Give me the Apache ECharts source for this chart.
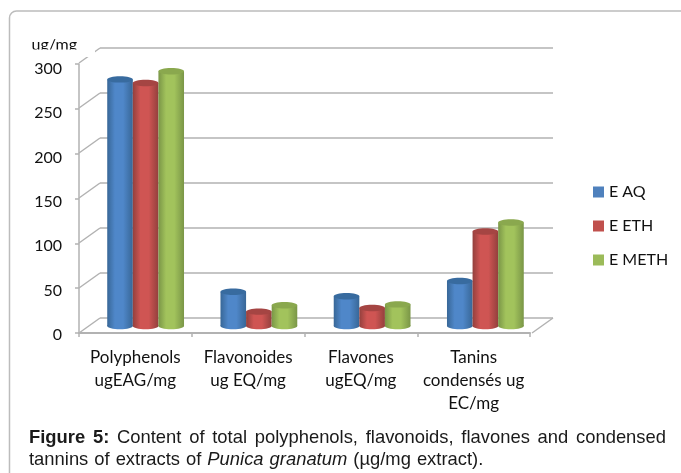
<!DOCTYPE html>
<html>
<head>
<meta charset="utf-8">
<style>html,body{margin:0;padding:0;background:#fff}#chart{width:681px;height:473px}</style>
<script src="https://cdn.jsdelivr.net/npm/echarts@6/dist/echarts.min.js"></script>
</head>
<body>
<div id="chart"></div>
<script>
// Extract contents per assay, in ug/mg
const categories = ['Polyphenols\nugEAG/mg', 'Flavonoides\nug EQ/mg', 'Flavones\nugEQ/mg', 'Tanins\ncondensés ug\nEC/mg'];
const eAq = [274, 38, 33, 50];
const eEth = [270, 16, 20, 105];
const eMeth = [283, 23, 24, 115];
const yTicks = [0, 50, 100, 150, 200, 250, 300];
const captionLine1 = [['Figure', true], ['5:', true], ['Content'], ['of'], ['total'], ['polyphenols,'], ['flavonoids,'], ['flavones'], ['and'], ['condensed']];
const captionLine2 = [['tannins'], ['of'], ['extracts'], ['of'], ['Punica', false, true], ['granatum', false, true], ['(µg/mg'], ['extract).']];

const GRID_COLOR = '#b2b2b2';
const LABEL_FONT = 'Lato, "Open Sans", sans-serif';
const CAPTION_FONT = '"Liberation Sans", Arial, sans-serif';
const CAPTION_SIZE = 18.4;
const DEPTH = [-21, 15];

const palette = [
  { name: 'E AQ', data: eAq, legend: '#4f81bd', edge: '#386797', mid: '#4f87c9', top: '#386b9f' },
  { name: 'E ETH', data: eEth, legend: '#c0504d', edge: '#93403d', mid: '#cf5553', top: '#a54543' },
  { name: 'E METH', data: eMeth, legend: '#9bbb59', edge: '#7a9647', mid: '#a2c35c', top: '#8aa84e' }
];

function shade(from, to) {
  return {
    type: 'linear', x: 0, y: 0, x2: 1, y2: 0,
    colorStops: [
      { offset: 0, color: from }, { offset: 0.3, color: to },
      { offset: 0.62, color: to }, { offset: 1, color: from }
    ]
  };
}

// One cylinder: side wall, rounded foot and a darker elliptical cap
function cylinder(seriesIdx) {
  const c = palette[seriesIdx];
  return function (params, api) {
    const top = api.coord([api.value(0), api.value(1)]);
    const base = api.coord([api.value(0), 0]);
    const band = api.size([1, 0])[0];
    const w = band * 0.226;
    const cx = top[0] + (seriesIdx - 1) * w;
    const x = cx - w / 2;
    const ry = 3.2;
    const fill = shade(c.edge, c.mid);
    return {
      type: 'group',
      children: [
        { type: 'ellipse', shape: { cx: cx, cy: base[1], rx: w / 2, ry: ry }, style: { fill: fill } },
        { type: 'rect', shape: { x: x, y: top[1], width: w, height: base[1] - top[1] }, style: { fill: fill } },
        { type: 'ellipse', shape: { cx: cx, cy: top[1], rx: w / 2, ry: ry }, style: { fill: c.top } }
      ]
    };
  };
}

// Slanted wall and floor edges running from the back plane to the front plane
function depthEdge(params, api) {
  const p = api.coord([api.value(0), api.value(1)]);
  return {
    type: 'line',
    shape: { x1: p[0], y1: p[1], x2: p[0] + DEPTH[0], y2: p[1] + DEPTH[1] },
    style: { stroke: GRID_COLOR, lineWidth: 1.5 }
  };
}

const measure = document.createElement('canvas').getContext('2d');
function fontOf(w) {
  return (w[2] ? 'italic ' : '') + (w[1] ? 'bold ' : '') + CAPTION_SIZE + 'px ' + CAPTION_FONT;
}
function widthOf(w) {
  measure.font = fontOf(w);
  return measure.measureText(w[0]).width;
}
// Lays a caption line out word by word, justified when a right edge is given
function captionWords(words, left, right, y) {
  const total = words.reduce((s, w) => s + widthOf(w), 0);
  const gap = right ? (right - left - total) / (words.length - 1) : CAPTION_SIZE * 0.326;
  let x = left;
  return words.map(w => {
    const el = { type: 'text', x: x, y: y, z: 60, style: { text: w[0], font: fontOf(w), fill: '#1a1a1a', textVerticalAlign: 'middle' } };
    x += widthOf(w) + gap;
    return el;
  });
}

const chart = echarts.init(document.getElementById('chart'));
chart.setOption({
  animation: false,
  backgroundColor: '#fff',
  legend: {
    orient: 'vertical', left: 588, top: 179,
    itemWidth: 11, itemHeight: 11, itemGap: 18,
    icon: 'rect',
    data: palette.map(p => p.name),
    textStyle: { fontFamily: LABEL_FONT, fontSize: 16, color: '#111' }
  },
  grid: [
    { left: 79, top: 64, width: 451, height: 269 },     // front plane
    { left: 100, top: 48, width: 453, height: 270 },    // back wall
    { left: 89, top: 56, width: 453, height: 270 },     // plane holding the cylinders
    { left: 79, top: 68.7, width: 451, height: 266 }    // value labels, set slightly tighter than the ticks
  ],
  xAxis: [
    {
      gridIndex: 0, type: 'category', data: categories,
      axisLine: { lineStyle: { color: GRID_COLOR, width: 2 } },
      axisTick: { show: true, length: 4, lineStyle: { color: GRID_COLOR, width: 1.5 } },
      axisLabel: { interval: 0, fontFamily: LABEL_FONT, fontSize: 17, color: '#111', lineHeight: 23, margin: 13 }
    },
    { gridIndex: 1, type: 'value', min: 0, max: 1, show: false },
    { gridIndex: 2, type: 'category', data: categories, show: false },
    { gridIndex: 3, type: 'value', min: 0, max: 1, show: false }
  ],
  yAxis: [
    {
      gridIndex: 0, type: 'value', min: 0, max: 300, interval: 50,
      splitLine: { show: false },
      axisLine: { show: true, lineStyle: { color: GRID_COLOR, width: 1.5 } },
      axisTick: { show: true, length: 4, lineStyle: { color: GRID_COLOR, width: 1.5 } },
      axisLabel: { show: false }
    },
    {
      gridIndex: 1, type: 'value', min: 0, max: 300, interval: 50,
      axisLine: { show: false }, axisTick: { show: false }, axisLabel: { show: false },
      splitLine: { show: true, lineStyle: { color: GRID_COLOR, width: 1.5 } }
    },
    { gridIndex: 2, type: 'value', min: 0, max: 300, show: false },
    {
      gridIndex: 3, type: 'value', min: 0, max: 300, interval: 50,
      splitLine: { show: false }, axisLine: { show: false }, axisTick: { show: false },
      axisLabel: { fontFamily: LABEL_FONT, fontSize: 16, color: '#111', margin: 17 }
    }
  ],
  series: [
    {
      type: 'custom', xAxisIndex: 1, yAxisIndex: 1, silent: true, z: 1,
      renderItem: depthEdge,
      data: yTicks.map(v => [0, v]).concat([[1, 0]])
    }
  ].concat(palette.map((p, i) => ({
    type: 'custom', name: p.name, xAxisIndex: 2, yAxisIndex: 2, z: 3 + i,
    itemStyle: { color: p.legend },
    renderItem: cylinder(i),
    encode: { x: 0, y: 1 },
    data: p.data.map((v, k) => [k, v])
  }))),
  graphic: [
    // Card outline, open past the right and bottom of the page
    { type: 'rect', shape: { x: 9.5, y: 11, width: 800, height: 700, r: 7 }, z: -1, style: { fill: 'none', stroke: '#bcbcbc', lineWidth: 1.5 } },
    { type: 'text', x: 31.5, y: 36.5, z: 49, style: { text: 'ug/mg', font: '16px ' + LABEL_FONT, fill: '#111' } },
    { type: 'rect', shape: { x: 28, y: 49.5, width: 67, height: 7.5 }, z: 50, style: { fill: '#fff' } }
  ].concat(captionWords(captionLine1, 29, 666, 438), captionWords(captionLine2, 29, null, 460))
});
</script>
</body>
</html>
